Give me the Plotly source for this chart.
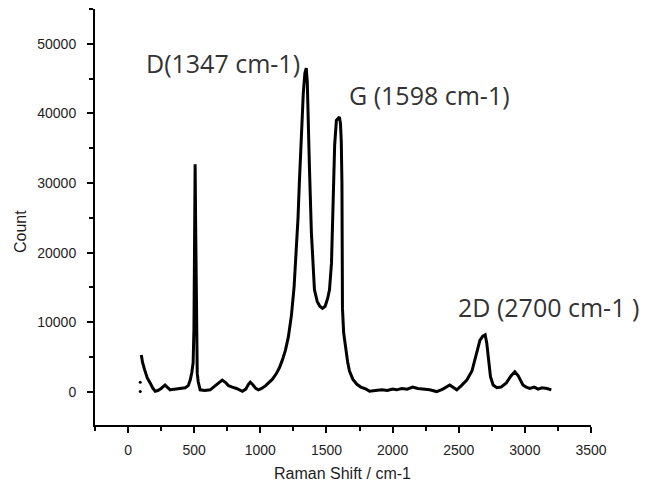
import plotly.graph_objects as go

# Raman spectrum (shift in cm-1, intensity in counts)
shift = [
    100, 110, 125, 145, 167, 185, 205, 225, 250, 280, 300, 318, 350, 390, 432,
    455, 470, 482, 492, 498, 503, 507, 511, 515, 519, 523, 530, 545, 580, 621,
    660, 690, 712, 740, 760, 788, 820, 864, 890, 910, 924, 945, 965, 985, 1010,
    1040, 1061, 1090, 1120, 1145, 1167, 1190, 1212, 1235, 1255, 1272, 1285, 1295,
    1310, 1325, 1337, 1347, 1355, 1362, 1371, 1386, 1398, 1409, 1430, 1450, 1470,
    1490, 1510, 1523, 1538, 1550, 1562, 1575, 1590, 1598, 1606, 1612, 1617, 1621,
    1630, 1645, 1660, 1674, 1700, 1730, 1760, 1800, 1826, 1870, 1920, 1960, 2000,
    2030, 2070, 2110, 2152, 2190, 2230, 2280, 2333, 2380, 2432, 2460, 2485, 2520,
    2561, 2600, 2636, 2660, 2682, 2700, 2712, 2725, 2740, 2760, 2788, 2820, 2860,
    2895, 2924, 2950, 2970, 2985, 3010, 3038, 3070, 3100, 3130, 3167, 3200,
]
counts = [
    5300, 4200, 3200, 2000, 1300, 600, 100, 200, 500, 1000, 600, 300, 400, 500, 600,
    900, 1700, 2800, 4200, 9000, 20000, 32700, 24000, 12000, 5000, 2700, 1500, 300, 200, 300,
    900, 1400, 1700, 1300, 900, 700, 500, 100, 400, 1100, 1400, 1000, 500, 300, 500,
    900, 1300, 1800, 2600, 3500, 4600, 6000, 7900, 11000, 15000, 20000, 25000, 30000,
    37000, 43000, 45800, 46500, 44500, 38500, 32400, 22900, 18000, 14700, 13000, 12300, 12000,
    12300, 13500, 14700, 18500, 26000, 35500, 39000, 39300, 39500, 38500, 36000, 30000, 12000,
    8500, 6000, 4300, 3000, 1800, 1100, 700, 400, 100, 200, 300, 200, 400,
    300, 500, 400, 700, 500, 400, 300, 50, 400, 1000, 600, 300, 900,
    1700, 3000, 5600, 7400, 8000, 8200, 7000, 4500, 2200, 1000, 600, 700, 1300,
    2300, 2900, 2300, 1500, 1000, 700, 500, 700, 400, 600, 500, 300,
]

# a few isolated points recorded below the first spectrum point
stray_shift = [92, 92]
stray_counts = [1400, 50]

x_ticks = [0, 500, 1000, 1500, 2000, 2500, 3000, 3500]
y_ticks = [0, 10000, 20000, 30000, 40000, 50000]

peak_labels = ["D(1347 cm-1)", "G (1598 cm-1)", "2D (2700 cm-1 )"]
label_x = [118, 1655, 2480]
label_y = [47300, 42700, 12200]

W, H = 662, 487
L, R, T, B = 95, 71, 9, 62
pw, ph = W - L - R, H - T - B


def px_to_paper(px, py):
    return (px - L) / pw, (H - B - py) / ph


fig = go.Figure()
fig.add_trace(go.Scatter(
    x=shift, y=counts, mode="lines",
    line=dict(color="black", width=3),
    showlegend=False,
))
fig.add_trace(go.Scatter(
    x=stray_shift, y=stray_counts, mode="markers",
    marker=dict(color="black", size=3),
    showlegend=False,
))

tick_font = dict(family="Arial, Liberation Sans, sans-serif", size=14, color="#1e1e1e")
axis_common = dict(
    showline=True, linecolor="black", linewidth=2,
    ticks="outside", ticklen=6, tickwidth=2, tickcolor="black",
    showgrid=False, zeroline=False, tickfont=tick_font,
)

fig.update_xaxes(
    range=[-250, 3500], tickvals=x_ticks,
    ticktext=[str(v) for v in x_ticks],
    minor=dict(dtick=250, tick0=0, ticks="outside", ticklen=4, tickwidth=2, tickcolor="black"),
    ticklabelstandoff=5,
    **axis_common,
)
fig.update_yaxes(
    range=[-4750, 55000], tickvals=y_ticks,
    ticktext=[str(v) for v in y_ticks],
    minor=dict(dtick=5000, tick0=0, ticks="outside", ticklen=4, tickwidth=2, tickcolor="black"),
    ticklabelstandoff=8,
    **axis_common,
)

annotations = []
for txt, ax, ay in zip(peak_labels, label_x, label_y):
    annotations.append(dict(
        x=ax, y=ay, xref="x", yref="y", text=txt, showarrow=False,
        xanchor="left", yanchor="middle",
        font=dict(family="Open Sans, Noto Sans, sans-serif", size=25, color="#333333"),
    ))

# axis titles
tx, ty = px_to_paper(342, 474)
annotations.append(dict(
    x=tx, y=ty, xref="paper", yref="paper", text="Raman Shift / cm-1",
    showarrow=False, xanchor="center", yanchor="middle",
    font=dict(family="Arial, Liberation Sans, sans-serif", size=16, color="#1e1e1e"),
))
cx, cy = px_to_paper(20, 232)
annotations.append(dict(
    x=cx, y=cy, xref="paper", yref="paper", text="Count", textangle=-90,
    showarrow=False, xanchor="center", yanchor="middle",
    font=dict(family="Arial, Liberation Sans, sans-serif", size=16, color="#1e1e1e"),
))

fig.update_layout(
    width=W, height=H,
    margin=dict(l=L, r=R, t=T, b=B),
    paper_bgcolor="white", plot_bgcolor="white",
    annotations=annotations,
)

fig.write_html("out.html")
